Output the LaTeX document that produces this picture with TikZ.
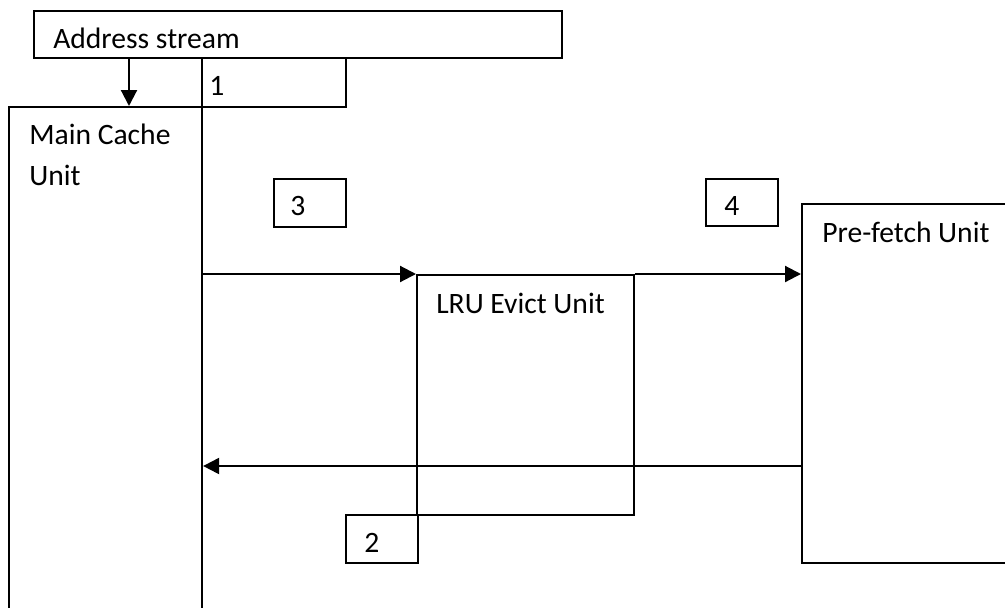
\documentclass[tikz,border=0pt]{standalone}
\usepackage{fontspec}
\setmainfont{Carlito}
\usetikzlibrary{arrows.meta}

\begin{document}
\begin{tikzpicture}[x=0.75pt,y=-0.75pt]
    \tikzstyle{every node}+=[inner sep=0pt]
    \tikzstyle{unitbox}=[draw=black, line width=1.6pt, rectangle, anchor=north west]
    \tikzstyle{lbl}=[anchor=base west, font=\fontsize{22.2}{30.75}\selectfont, align=left]
    \tikzstyle{flow}=[black, line width=1.6pt, -{Triangle[length=12pt,width=12pt]}]
    \useasboundingbox (0,0) rectangle (1005,607);
    \clip (0,0) rectangle (1005,607);
    \node [unitbox, minimum width=396pt, minimum height=35.25pt] (addr) at (33,10) {};
    \node [unitbox, minimum width=108pt, minimum height=36.75pt] (one) at (201,57) {};
    \node [unitbox, minimum width=144.75pt, minimum height=390pt] (main) at (8,106) {};
    \node [unitbox, minimum width=54pt, minimum height=36pt] (three) at (273,178) {};
    \node [unitbox, minimum width=54pt, minimum height=35.25pt] (four) at (705,178) {};
    \node [unitbox, minimum width=164.25pt, minimum height=269.25pt] (pre) at (801,203) {};
    \node [unitbox, minimum width=162.75pt, minimum height=180pt] (lru) at (416,274) {};
    \node [unitbox, minimum width=54pt, minimum height=36pt] (two) at (345,514) {};
    \node [lbl] (addrtext) at (53,48) {Address stream};
    \node [lbl] (onetext) at (209,95) {1};
    \node [lbl] (maintext) at (29,185) {Main Cache\\Unit};
    \node [lbl] (threetext) at (290,215) {3};
    \node [lbl] (fourtext) at (724,215) {4};
    \node [lbl] (pretext) at (822,242) {Pre-fetch Unit};
    \node [lbl] (lrutext) at (436,313) {LRU Evict Unit};
    \node [lbl] (twotext) at (364,552) {2};
    \coordinate (drop) at (129,0);
    \coordinate (back) at (0,466);
    \draw [flow] (addr.south -| drop) -- (main.north -| drop);
    \draw [flow] (main.east |- lru.north) -- (lru.north west);
    \draw [flow] (lru.north east) -- (lru.north east -| pre.west);
    \draw [flow] (pre.west |- back) -- (main.east |- back);
\end{tikzpicture}
\end{document}
